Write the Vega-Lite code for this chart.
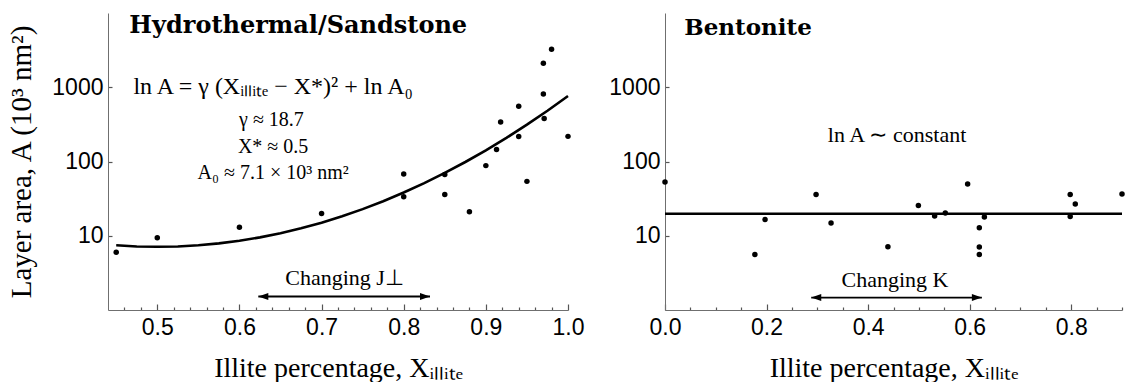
{
  "$schema": "https://vega.github.io/schema/vega-lite/v6.json",
  "background": "white",
  "padding": {"left": 7, "top": 13, "right": 5, "bottom": 5},
  "spacing": 97,
  "bounds": "flush",
  "config": {
    "view": {"stroke": null},
    "axis": {
      "grid": false,
      "domainColor": "#6f6f6f",
      "tickColor": "#555555",
      "tickWidth": 1.2,
      "labelFlush": false,
      "labelOverlap": false,
      "labelFont": "Liberation Sans",
      "labelFontSize": 23,
      "labelColor": "black",
      "titleFont": "Liberation Serif",
      "titleFontSize": 28,
      "titleFontWeight": "normal",
      "titleColor": "black"
    }
  },
  "datasets": {
    "hydro": [
      {"x": 0.45, "y": 6.0}, {"x": 0.5, "y": 9.4}, {"x": 0.6, "y": 13}, {"x": 0.7, "y": 20},
      {"x": 0.8, "y": 68}, {"x": 0.8, "y": 33.5}, {"x": 0.85, "y": 36}, {"x": 0.85, "y": 67},
      {"x": 0.88, "y": 21}, {"x": 0.9, "y": 88}, {"x": 0.913, "y": 145}, {"x": 0.918, "y": 340},
      {"x": 0.94, "y": 217}, {"x": 0.94, "y": 556}, {"x": 0.95, "y": 54}, {"x": 0.97, "y": 2100},
      {"x": 0.98, "y": 3240}, {"x": 0.97, "y": 810}, {"x": 0.971, "y": 380}, {"x": 1.0, "y": 218}
    ],
    "hydroFit": [
      {"x": 0.45, "y": 7.44}, {"x": 0.475, "y": 7.18}, {"x": 0.5, "y": 7.1}, {"x": 0.525, "y": 7.18},
      {"x": 0.55, "y": 7.44}, {"x": 0.575, "y": 7.89}, {"x": 0.6, "y": 8.56}, {"x": 0.625, "y": 9.51},
      {"x": 0.65, "y": 10.81}, {"x": 0.675, "y": 12.59}, {"x": 0.7, "y": 15.0}, {"x": 0.725, "y": 18.3},
      {"x": 0.75, "y": 22.85}, {"x": 0.775, "y": 29.2}, {"x": 0.8, "y": 38.21}, {"x": 0.825, "y": 51.18},
      {"x": 0.85, "y": 70.17}, {"x": 0.875, "y": 98.48}, {"x": 0.9, "y": 141.5}, {"x": 0.925, "y": 208.0},
      {"x": 0.95, "y": 313.2}, {"x": 0.975, "y": 482.7}, {"x": 1.0, "y": 761.3}
    ],
    "bent": [
      {"x": 0.0, "y": 53}, {"x": 0.177, "y": 5.6}, {"x": 0.197, "y": 16.6}, {"x": 0.2975, "y": 35.9},
      {"x": 0.327, "y": 14.9}, {"x": 0.439, "y": 7.1}, {"x": 0.499, "y": 25.6}, {"x": 0.531, "y": 18.5},
      {"x": 0.552, "y": 20.3}, {"x": 0.596, "y": 49.8}, {"x": 0.619, "y": 12.8}, {"x": 0.619, "y": 7.05},
      {"x": 0.619, "y": 5.6}, {"x": 0.629, "y": 17.9}, {"x": 0.798, "y": 35.9}, {"x": 0.808, "y": 26.7},
      {"x": 0.798, "y": 18.2}, {"x": 0.9, "y": 36.6}
    ],
    "bentFit": [{"x": 0.0, "y": 19.8}, {"x": 0.9, "y": 19.8}],
    "textL": [
      {"role": "title", "x": 0.466, "y": 5400, "text": "Hydrothermal/Sandstone"},
      {"role": "formula", "x": 0.641, "y": 1000, "text": "ln A = γ (Xᵢₗₗᵢₜₑ − X*)² + ln A₀"},
      {"role": "param", "x": 0.639, "y": 364, "text": "γ ≈ 18.7"},
      {"role": "param", "x": 0.641, "y": 158, "text": "X* ≈ 0.5"},
      {"role": "param", "x": 0.641, "y": 70, "text": "A₀ ≈ 7.1 × 10³ nm²"},
      {"role": "label", "x": 0.728, "y": 2.7, "text": "Changing J⊥"}
    ],
    "textR": [
      {"role": "title", "x": 0.038, "y": 5000, "text": "Bentonite"},
      {"role": "label", "x": 0.457, "y": 224, "text": "ln A ∼ constant"},
      {"role": "label", "x": 0.453, "y": 2.5, "text": "Changing K"}
    ],
    "arrowL": [{"x": 0.623, "y": 1.52, "end": "left"}, {"x": 0.832, "y": 1.52, "end": "right"}],
    "arrowR": [{"x": 0.288, "y": 1.47, "end": "left"}, {"x": 0.624, "y": 1.47, "end": "right"}]
  },
  "hconcat": [
    {
      "width": 460,
      "height": 297,
      "encoding": {
        "x": {
          "field": "x", "type": "quantitative",
          "scale": {"domain": [0.44, 1.0], "nice": false, "zero": false},
          "axis": {
            "title": "Illite percentage, Xᵢₗₗᵢₜₑ",
            "values": [0.46, 0.48, 0.5, 0.52, 0.54, 0.56, 0.58, 0.6, 0.62, 0.64, 0.66, 0.68, 0.7, 0.72, 0.74, 0.76, 0.78, 0.8, 0.82, 0.84, 0.86, 0.88, 0.9, 0.92, 0.94, 0.96, 0.98, 1.0],
            "labelExpr": "abs(datum.value*10 - round(datum.value*10)) < 0.000001 ? format(datum.value, '.1f') : ''",
            "tickSize": {"condition": {"test": "abs(datum.value*10 - round(datum.value*10)) < 0.000001", "value": -6}, "value": -3},
            "labelPadding": 12,
            "titlePadding": 12
          }
        },
        "y": {
          "field": "y", "type": "quantitative",
          "scale": {"type": "log", "domain": [1, 10000], "nice": false},
          "axis": {
            "title": "Layer area, A (10³ nm²)",
            "titleFontSize": 29,
            "values": [10, 100, 1000],
            "format": "d",
            "tickSize": -4,
            "labelPadding": 9,
            "titlePadding": 15
          }
        }
      },
      "layer": [
        {
          "data": {"name": "hydroFit"},
          "mark": {"type": "line", "color": "black", "strokeWidth": 2.6}
        },
        {
          "data": {"name": "hydro"},
          "mark": {"type": "point", "filled": true, "color": "black", "opacity": 1, "size": 30, "clip": false}
        },
        {
          "data": {"name": "arrowL"},
          "mark": {"type": "line", "color": "black", "strokeWidth": 1.8}
        },
        {
          "data": {"name": "arrowL"},
          "mark": {"type": "point", "filled": true, "color": "black", "opacity": 1, "size": 100},
          "encoding": {
            "shape": {"field": "end", "type": "nominal", "legend": null,
              "scale": {"domain": ["left", "right"], "range": ["M0,0L2,-0.7L2,0.7Z", "M0,0L-2,-0.7L-2,0.7Z"]}}
          }
        },
        {
          "data": {"name": "textL"},
          "transform": [{"filter": "datum.role == 'title'"}],
          "mark": {"type": "text", "font": "DejaVu Serif", "fontWeight": "bold", "fontSize": 24, "align": "left", "baseline": "alphabetic", "color": "black"},
          "encoding": {"text": {"field": "text"}}
        },
        {
          "data": {"name": "textL"},
          "transform": [{"filter": "datum.role == 'formula'"}],
          "mark": {"type": "text", "font": "Liberation Serif", "fontSize": 24, "align": "center", "baseline": "middle", "color": "black"},
          "encoding": {"text": {"field": "text"}}
        },
        {
          "data": {"name": "textL"},
          "transform": [{"filter": "datum.role == 'param'"}],
          "mark": {"type": "text", "font": "Liberation Serif", "fontSize": 20, "align": "center", "baseline": "middle", "color": "black"},
          "encoding": {"text": {"field": "text"}}
        },
        {
          "data": {"name": "textL"},
          "transform": [{"filter": "datum.role == 'label'"}],
          "mark": {"type": "text", "font": "Liberation Serif", "fontSize": 22, "align": "center", "baseline": "middle", "color": "black"},
          "encoding": {"text": {"field": "text"}}
        }
      ]
    },
    {
      "width": 457,
      "height": 297,
      "encoding": {
        "x": {
          "field": "x", "type": "quantitative",
          "scale": {"domain": [0, 0.9], "nice": false, "zero": false},
          "axis": {
            "title": "Illite percentage, Xᵢₗₗᵢₜₑ",
            "values": [0, 0.05, 0.1, 0.15, 0.2, 0.25, 0.3, 0.35, 0.4, 0.45, 0.5, 0.55, 0.6, 0.65, 0.7, 0.75, 0.8, 0.85, 0.9],
            "labelExpr": "abs(datum.value*5 - round(datum.value*5)) < 0.000001 ? format(datum.value, '.1f') : ''",
            "tickSize": {"condition": {"test": "abs(datum.value*5 - round(datum.value*5)) < 0.000001", "value": -6}, "value": -3},
            "labelPadding": 12,
            "titlePadding": 12
          }
        },
        "y": {
          "field": "y", "type": "quantitative",
          "scale": {"type": "log", "domain": [1, 10000], "nice": false},
          "axis": {
            "title": null,
            "values": [10, 100, 1000],
            "format": "d",
            "tickSize": -4,
            "labelPadding": 9
          }
        }
      },
      "layer": [
        {
          "data": {"name": "bentFit"},
          "mark": {"type": "line", "color": "black", "strokeWidth": 2.6}
        },
        {
          "data": {"name": "bent"},
          "mark": {"type": "point", "filled": true, "color": "black", "opacity": 1, "size": 30, "clip": false}
        },
        {
          "data": {"name": "arrowR"},
          "mark": {"type": "line", "color": "black", "strokeWidth": 1.8}
        },
        {
          "data": {"name": "arrowR"},
          "mark": {"type": "point", "filled": true, "color": "black", "opacity": 1, "size": 100},
          "encoding": {
            "shape": {"field": "end", "type": "nominal", "legend": null,
              "scale": {"domain": ["left", "right"], "range": ["M0,0L2,-0.7L2,0.7Z", "M0,0L-2,-0.7L-2,0.7Z"]}}
          }
        },
        {
          "data": {"name": "textR"},
          "transform": [{"filter": "datum.role == 'title'"}],
          "mark": {"type": "text", "font": "DejaVu Serif", "fontWeight": "bold", "fontSize": 23, "align": "left", "baseline": "alphabetic", "color": "black"},
          "encoding": {"text": {"field": "text"}}
        },
        {
          "data": {"name": "textR"},
          "transform": [{"filter": "datum.role == 'label'"}],
          "mark": {"type": "text", "font": "Liberation Serif", "fontSize": 22, "align": "center", "baseline": "middle", "color": "black"},
          "encoding": {"text": {"field": "text"}}
        }
      ]
    }
  ]
}
